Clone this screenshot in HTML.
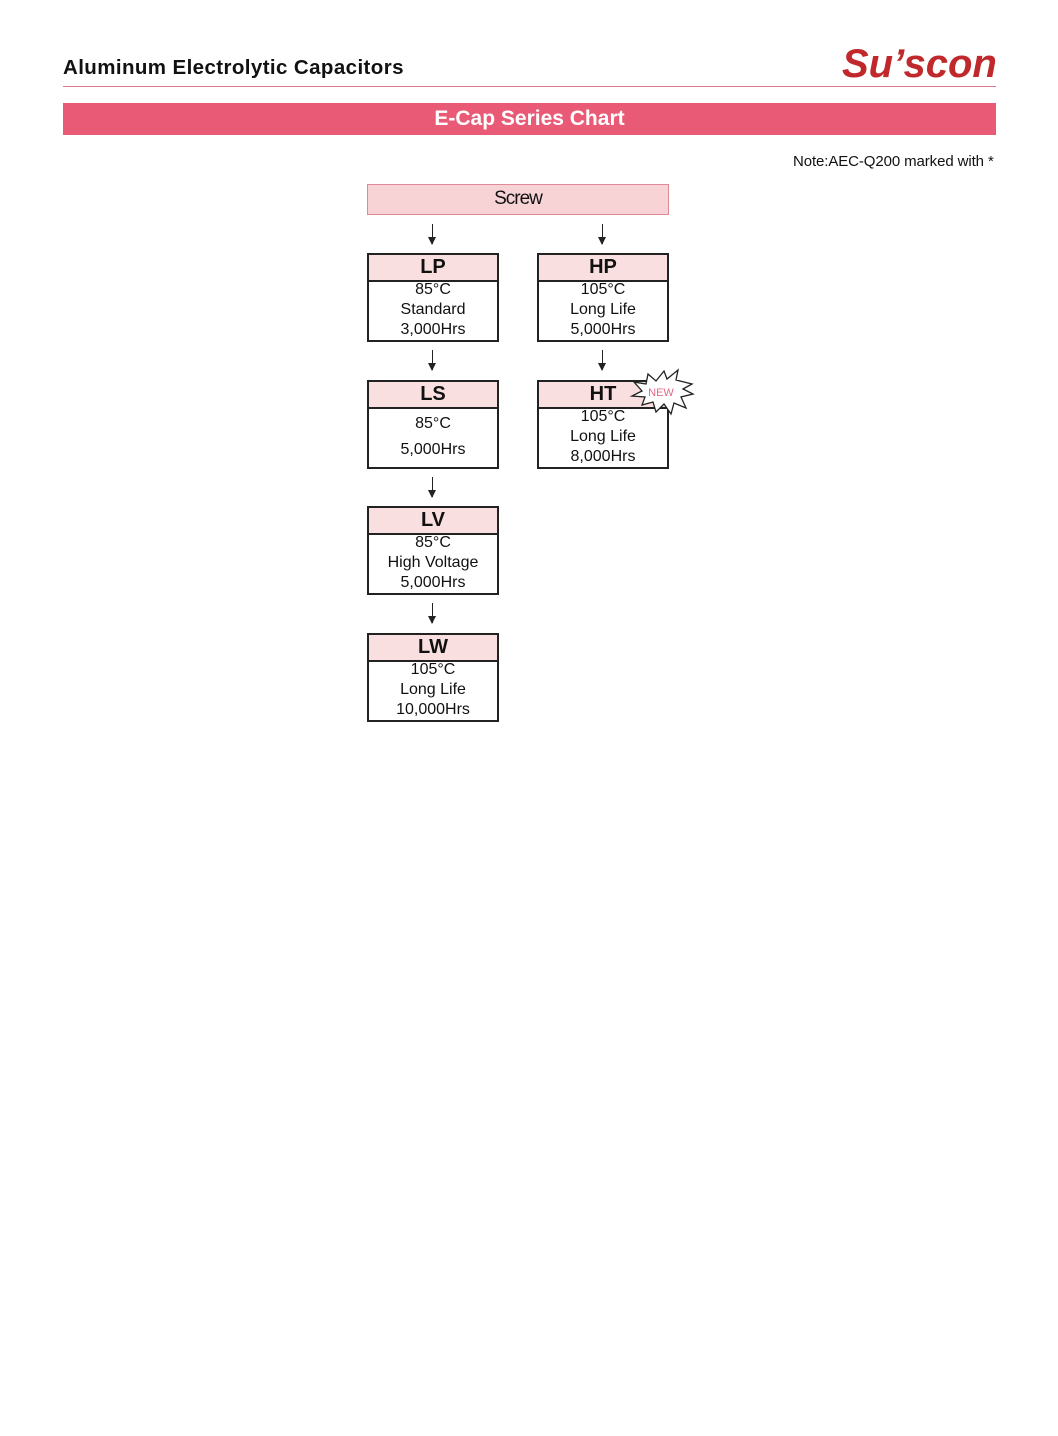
<!DOCTYPE html>
<html><head><meta charset="utf-8"><style>
body{margin:0;width:1058px;height:1436px;background:#fff;position:relative;font-family:"Liberation Sans",sans-serif;color:#111;overflow:hidden}
.a{position:absolute}
.box{position:absolute;width:132px;border:2px solid #222;box-sizing:border-box;background:#fff;text-align:center}
.box .h{height:25px;background:#f9dfe0;border-bottom:2px solid #222;font-weight:bold;font-size:20px;line-height:25px}
.box .b{font-size:16px;line-height:20px;margin-top:-2px}
.arr{position:absolute;width:1px;background:#222}
.arr:after{content:"";position:absolute;left:-4px;bottom:-1px;border-left:4.5px solid transparent;border-right:4.5px solid transparent;border-top:8px solid #222}
</style></head><body>
<div class="a" style="left:63px;top:56px;font-size:20.5px;font-weight:bold;letter-spacing:0.4px">Aluminum Electrolytic Capacitors</div>
<div class="a" style="left:842px;top:42px;font-size:40px;font-weight:bold;font-style:italic;color:#c0282b">Su’scon</div>
<div class="a" style="left:63px;top:86px;width:933px;height:1px;background:#e07a8a"></div>
<div class="a" style="left:63px;top:103px;width:933px;height:32px;background:#e95a76;color:#fff;font-weight:bold;font-size:21px;line-height:32px;text-align:center">E-Cap Series Chart</div>
<div class="a" style="left:793px;top:153px;font-size:15px;letter-spacing:-0.1px">Note:AEC-Q200 marked with *</div>

<div class="a" style="left:367px;top:184px;width:302px;height:31px;box-sizing:border-box;background:#f8d3d6;border:1px solid #e08a98;text-align:center;font-size:19px;line-height:28px;letter-spacing:-1px">Screw</div>

<div class="arr" style="left:432px;top:224px;height:20px"></div>
<div class="arr" style="left:602px;top:224px;height:20px"></div>
<div class="arr" style="left:432px;top:350px;height:20px"></div>
<div class="arr" style="left:602px;top:350px;height:20px"></div>
<div class="arr" style="left:432px;top:477px;height:20px"></div>
<div class="arr" style="left:432px;top:603px;height:20px"></div>

<div class="box" style="left:367px;top:253px;height:89px"><div class="h">LP</div><div class="b">85°C<br>Standard<br>3,000Hrs</div></div>
<div class="box" style="left:537px;top:253px;height:89px"><div class="h">HP</div><div class="b">105°C<br>Long Life<br>5,000Hrs</div></div>
<div class="box" style="left:367px;top:380px;height:89px"><div class="h">LS</div><div class="b" style="line-height:26px;margin-top:2px">85°C<br>5,000Hrs</div></div>
<div class="box" style="left:537px;top:380px;height:89px"><div class="h">HT</div><div class="b">105°C<br>Long Life<br>8,000Hrs</div></div>
<div class="box" style="left:367px;top:506px;height:89px"><div class="h">LV</div><div class="b">85°C<br>High Voltage<br>5,000Hrs</div></div>
<div class="box" style="left:367px;top:633px;height:89px"><div class="h">LW</div><div class="b">105°C<br>Long Life<br>10,000Hrs</div></div>

<svg class="a" style="left:628px;top:368px" width="70" height="50" viewBox="0 0 70 50">
<polygon points="6,14 18,16 20,6 28,13 36,3 39,11 50,2 48,12 64,16 55,21 65,26 53,29 58,40 46,35 43,46 36,36 28,44 25,34 14,37 17,29 4,28 14,23" fill="#fff" stroke="#222" stroke-width="1.3"/>
<text x="33" y="28" font-family="Liberation Sans,sans-serif" font-size="11" fill="#e06a86" text-anchor="middle">NEW</text>
</svg>
</body></html>
